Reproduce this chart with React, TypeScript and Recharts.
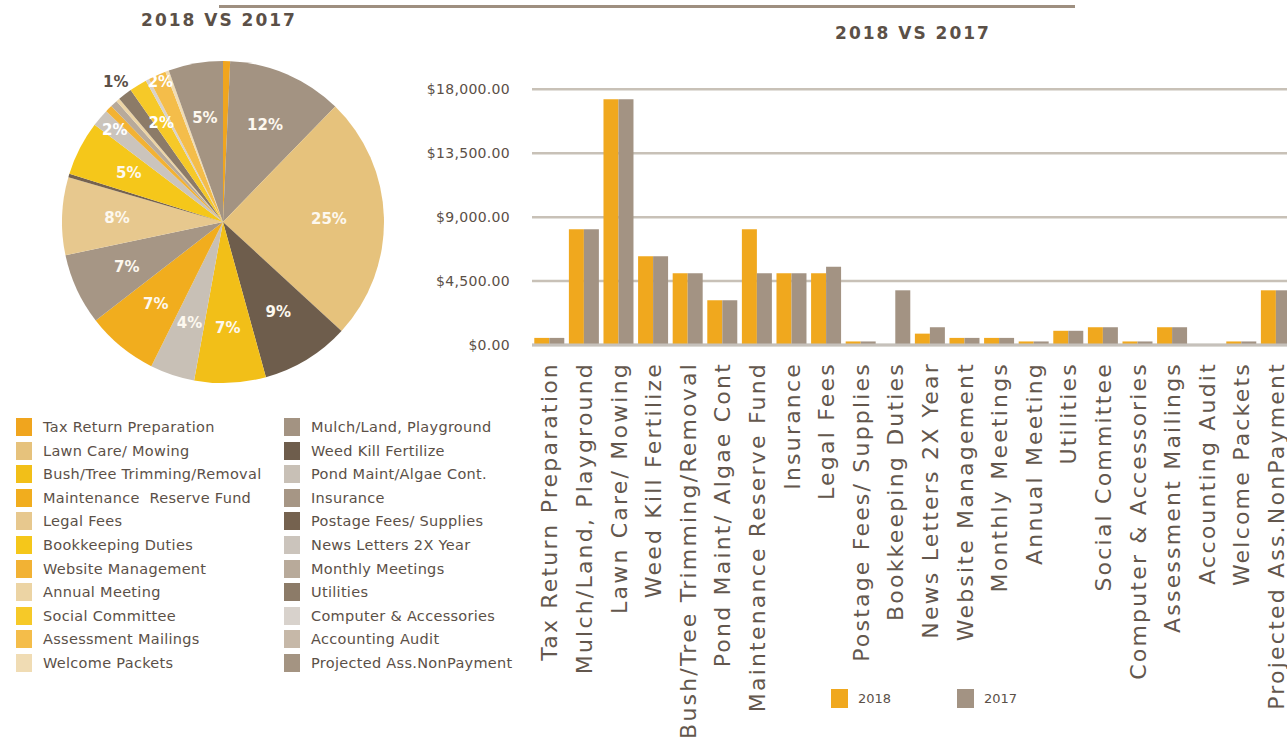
import React from 'react';
import { BarChart, Bar, XAxis, YAxis, CartesianGrid, PieChart, Pie, Cell } from 'recharts';

const categories = [
  'Tax Return Preparation',
  'Mulch/Land, Playground',
  'Lawn Care/ Mowing',
  'Weed Kill Fertilize',
  'Bush/Tree Trimming/Removal',
  'Pond Maint/ Algae Cont',
  'Maintenance  Reserve Fund',
  'Insurance',
  'Legal Fees',
  'Postage Fees/ Supplies',
  'Bookkeeping Duties',
  'News Letters 2X Year',
  'Website Management',
  'Monthly Meetings',
  'Annual Meeting',
  'Utilities',
  'Social Committee',
  'Computer & Accessories',
  'Assessment Mailings',
  'Accounting Audit',
  'Welcome Packets',
  'Projected Ass.NonPayment',
];

const legendNames = [
  'Tax Return Preparation',
  'Mulch/Land, Playground',
  'Lawn Care/ Mowing',
  'Weed Kill Fertilize',
  'Bush/Tree Trimming/Removal',
  'Pond Maint/Algae Cont.',
  'Maintenance  Reserve Fund',
  'Insurance',
  'Legal Fees',
  'Postage Fees/ Supplies',
  'Bookkeeping Duties',
  'News Letters 2X Year',
  'Website Management',
  'Monthly Meetings',
  'Annual Meeting',
  'Utilities',
  'Social Committee',
  'Computer & Accessories',
  'Assessment Mailings',
  'Accounting Audit',
  'Welcome Packets',
  'Projected Ass.NonPayment',
];

const values2018 = [500, 8150, 17300, 6250, 5050, 3150, 8150, 5050, 5050, 250, 0, 800, 500, 500, 250, 1000, 1250, 250, 1250, 0, 250, 3850];
const values2017 = [500, 8150, 17300, 6250, 5050, 3150, 5050, 5050, 5500, 250, 3850, 1250, 500, 500, 250, 1000, 1250, 250, 1250, 0, 250, 3850];

const yTicks = [0, 4500, 9000, 13500, 18000];
const seriesNames = ['2018', '2017'];
const seriesColors = ['#f0a81e', '#a39383'];

const sliceColors = [
  '#f0a51e', '#a39382', '#e6c27c', '#6e5d4c', '#f2bf18', '#c8c0b6',
  '#f1ad1e', '#a69685', '#e7c88e', '#75624f', '#f5c71a', '#cbc4bc',
  '#f2b234', '#b8aa9a', '#ecd4a4', '#8c7b68', '#f6c928', '#d8d2cc',
  '#f4bd4a', '#c6b8a8', '#f0dcb4', '#a49482',
];

const barData = categories.map((name, i) => ({ name, y2018: values2018[i], y2017: values2017[i] }));
const pieData = categories.map((name, i) => ({ name, value: values2017[i] }));

const textColor = '#5b5047';
const RAD = Math.PI / 180;

const smallLabelStyle: Record<string, { r: number; fill: string }> = {
  'News Letters 2X Year': { r: 142, fill: '#ffffff' },
  'Utilities': { r: 176, fill: '#5b5047' },
  'Social Committee': { r: 117, fill: '#ffffff' },
  'Assessment Mailings': { r: 153, fill: '#ffffff' },
};

const renderPieLabel = (props: any) => {
  const { cx, cy, midAngle, percent, name } = props;
  let r = 106;
  let fill = '#fdf8ef';
  if (percent < 0.03) {
    const s = smallLabelStyle[name];
    if (!s) return null;
    r = s.r;
    fill = s.fill;
  }
  const x = cx + r * Math.cos(-midAngle * RAD);
  const y = cy + r * Math.sin(-midAngle * RAD);
  return (
    <text x={x} y={y} fill={fill} textAnchor="middle" dominantBaseline="central"
      style={{ fontFamily: 'DejaVu Sans', fontWeight: 700, fontSize: 15 }}>
      {`${Math.round(percent * 100)}%`}
    </text>
  );
};

const XTick = (props: any) => {
  const { x, y, payload } = props;
  return (
    <text transform={`translate(${x + 8},${y + 9}) rotate(-90)`} textAnchor="end" fill="#63574d"
      style={{ fontFamily: 'DejaVu Sans', fontSize: 22, letterSpacing: 2.2 }}>
      {payload.value}
    </text>
  );
};

const fmtMoney = (v: number) => '$' + v.toLocaleString('en-US', { minimumFractionDigits: 2, maximumFractionDigits: 2 });

export default function App() {
  const rows: number[][] = [];
  for (let i = 0; i < legendNames.length; i += 2) rows.push([i, i + 1]);
  return (
    <div style={{ position: 'absolute', left: 0, top: 0, width: 1287, height: 740, overflow: 'hidden', background: '#fff', fontFamily: 'DejaVu Sans' }}>
      <div style={{ position: 'absolute', left: 219, top: 5, width: 856, height: 3, background: '#9e8f80' }} />
      <div style={{ position: 'absolute', left: 69, top: 9, width: 300, textAlign: 'center', fontWeight: 700, fontSize: 17, letterSpacing: 2, color: textColor, lineHeight: '22px' }}>2018 VS 2017</div>
      <div style={{ position: 'absolute', left: 763, top: 22, width: 300, textAlign: 'center', fontWeight: 700, fontSize: 17, letterSpacing: 2, color: textColor, lineHeight: '22px' }}>2018 VS 2017</div>

      <div style={{ position: 'absolute', left: 48, top: 47 }}>
        <PieChart width={340} height={340}>
          <Pie data={pieData} dataKey="value" nameKey="name" cx={170} cy={170} outerRadius={161}
            startAngle={90} endAngle={-270} stroke="none" label={renderPieLabel} labelLine={false}
            isAnimationActive={false}>
            {pieData.map((d, i) => (<Cell key={d.name} fill={sliceColors[i]} />))}
          </Pie>
        </PieChart>
      </div>

      {rows.map((pair, r) => (
        <React.Fragment key={r}>
          {pair.map((idx, c) => idx < legendNames.length ? (
            <div key={idx} style={{ position: 'absolute', left: c === 0 ? 16 : 284, top: 417 + r * 23.6, height: 20, display: 'flex', alignItems: 'center' }}>
              <div style={{ width: 16, height: 18, background: sliceColors[idx] }} />
              <div style={{ marginLeft: c === 0 ? 11 : 11, fontSize: 14.5, letterSpacing: 0.3, color: textColor, whiteSpace: 'pre' }}>{legendNames[idx]}</div>
            </div>
          ) : null)}
        </React.Fragment>
      ))}

      <div style={{ position: 'absolute', left: 420, top: 0 }}>
        <BarChart width={880} height={740} data={barData} margin={{ top: 89.3, right: 6.8, bottom: 0, left: 12 }}
          barGap={0} barCategoryGap="6.6%">
          <CartesianGrid vertical={false} stroke="#c8c1b7" strokeWidth={2.5} />
          <XAxis dataKey="name" interval={0} height={395} tickLine={false} tick={<XTick />}
            axisLine={{ stroke: '#c6c1bb', strokeWidth: 3 }} />
          <YAxis width={100} domain={[0, 18000]} ticks={yTicks} tickLine={false} axisLine={false} tickMargin={16}
            tickFormatter={fmtMoney} tick={{ fill: textColor, fontSize: 14, fontFamily: 'DejaVu Sans', letterSpacing: 0.3 }} />
          <Bar dataKey="y2018" name={seriesNames[0]} fill={seriesColors[0]} isAnimationActive={false} />
          <Bar dataKey="y2017" name={seriesNames[1]} fill={seriesColors[1]} isAnimationActive={false} />
        </BarChart>
      </div>

      {seriesNames.map((s, i) => (
        <div key={s} style={{ position: 'absolute', left: i === 0 ? 831 : 957, top: 689, height: 19, display: 'flex', alignItems: 'center' }}>
          <div style={{ width: 17, height: 19, background: seriesColors[i] }} />
          <div style={{ marginLeft: 10, fontSize: 13, color: textColor }}>{s}</div>
        </div>
      ))}
    </div>
  );
}
